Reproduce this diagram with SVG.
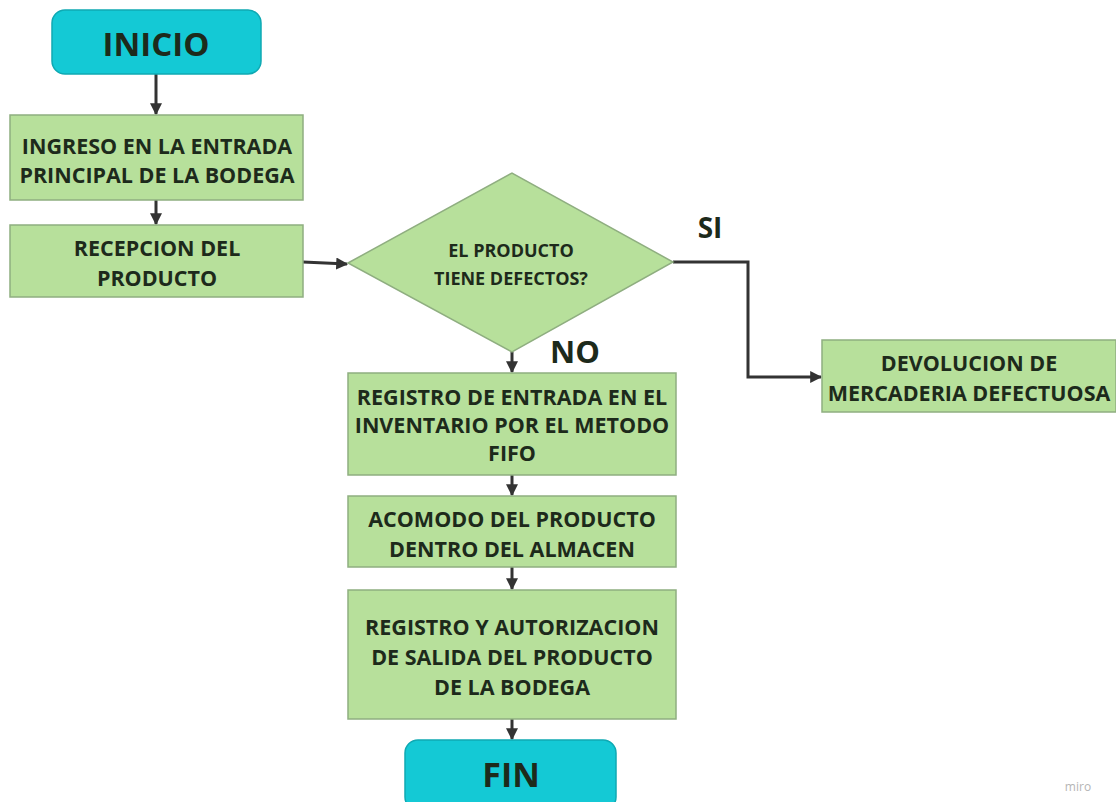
<svg xmlns="http://www.w3.org/2000/svg" width="1116" height="802" viewBox="0 0 1116 802">
<defs>
<style>
.box{fill:#b7e09b;stroke:#8fae80;stroke-width:1.5}
.term{fill:#14c9d5;stroke:#0fa9b3;stroke-width:1.5}
.t{font-family:"Open Sans","Noto Sans",sans-serif;font-weight:700;fill:#1d2a1b;text-anchor:middle}
.m{font-size:21.5px}
.c{fill:none;stroke:#333;stroke-width:3}
</style>
<marker id="ah" viewBox="0 0 10 10" refX="9" refY="5" markerWidth="4" markerHeight="4" orient="auto" markerUnits="strokeWidth">
<path d="M0,0 L10,5 L0,10 z" fill="#333"/>
</marker>
</defs>
<rect width="1116" height="802" fill="#ffffff"/>
<g id="connectors">
<path class="c" d="M156,74 V114" marker-end="url(#ah)"/>
<path class="c" d="M156,200 V224" marker-end="url(#ah)"/>
<path class="c" d="M303,262 L347,264" marker-end="url(#ah)"/>
<path class="c" d="M673,262 H748 V377 H821" marker-end="url(#ah)"/>
<path class="c" d="M512,352 V372" marker-end="url(#ah)"/>
<path class="c" d="M512,475 V495" marker-end="url(#ah)"/>
<path class="c" d="M512,567 V589" marker-end="url(#ah)"/>
<path class="c" d="M512,719 V739" marker-end="url(#ah)"/>
</g>
<g id="inicio">
<rect class="term" x="52" y="10" width="209" height="64" rx="13"/>
<text class="t" x="156" y="56" font-size="33">INICIO</text>
</g>
<g id="ingreso">
<rect class="box" x="10" y="115" width="293" height="85"/>
<text class="t m" x="157" y="154">INGRESO EN LA ENTRADA</text>
<text class="t m" x="157" y="183">PRINCIPAL DE LA BODEGA</text>
</g>
<g id="recepcion">
<rect class="box" x="10" y="225" width="293" height="72"/>
<text class="t m" x="157" y="256">RECEPCION DEL</text>
<text class="t m" x="157" y="286">PRODUCTO</text>
</g>
<g id="decision">
<polygon class="box" points="348,263 512,173 673,262 512,352"/>
<text class="t" x="511" y="257" font-size="18">EL PRODUCTO</text>
<text class="t" x="511" y="285" font-size="18">TIENE DEFECTOS?</text>
</g>
<g id="labels">
<text class="t" x="710" y="238" font-size="28" fill="#1a1a1a">SI</text>
<text class="t" x="575" y="363" font-size="31" fill="#1a1a1a">NO</text>
</g>
<g id="devolucion">
<rect class="box" x="822" y="340" width="294" height="72"/>
<text class="t m" x="969" y="371">DEVOLUCION DE</text>
<text class="t m" x="969" y="401">MERCADERIA DEFECTUOSA</text>
</g>
<g id="registro">
<rect class="box" x="348" y="373" width="328" height="102"/>
<text class="t m" x="512" y="405">REGISTRO DE ENTRADA EN EL</text>
<text class="t m" x="512" y="433">INVENTARIO POR EL METODO</text>
<text class="t m" x="512" y="461">FIFO</text>
</g>
<g id="acomodo">
<rect class="box" x="348" y="496" width="328" height="71"/>
<text class="t m" x="512" y="527">ACOMODO DEL PRODUCTO</text>
<text class="t m" x="512" y="557">DENTRO DEL ALMACEN</text>
</g>
<g id="salida">
<rect class="box" x="348" y="590" width="328" height="129"/>
<text class="t m" x="512" y="635">REGISTRO Y AUTORIZACION</text>
<text class="t m" x="512" y="665">DE SALIDA DEL PRODUCTO</text>
<text class="t m" x="512" y="695">DE LA BODEGA</text>
</g>
<g id="fin">
<rect class="term" x="405" y="740" width="211" height="70" rx="13"/>
<text class="t" x="511" y="787" font-size="34">FIN</text>
</g>
<text x="1078" y="791" font-family="'Open Sans',sans-serif" font-size="12" fill="#b5b5b5" text-anchor="middle">miro</text>
</svg>
